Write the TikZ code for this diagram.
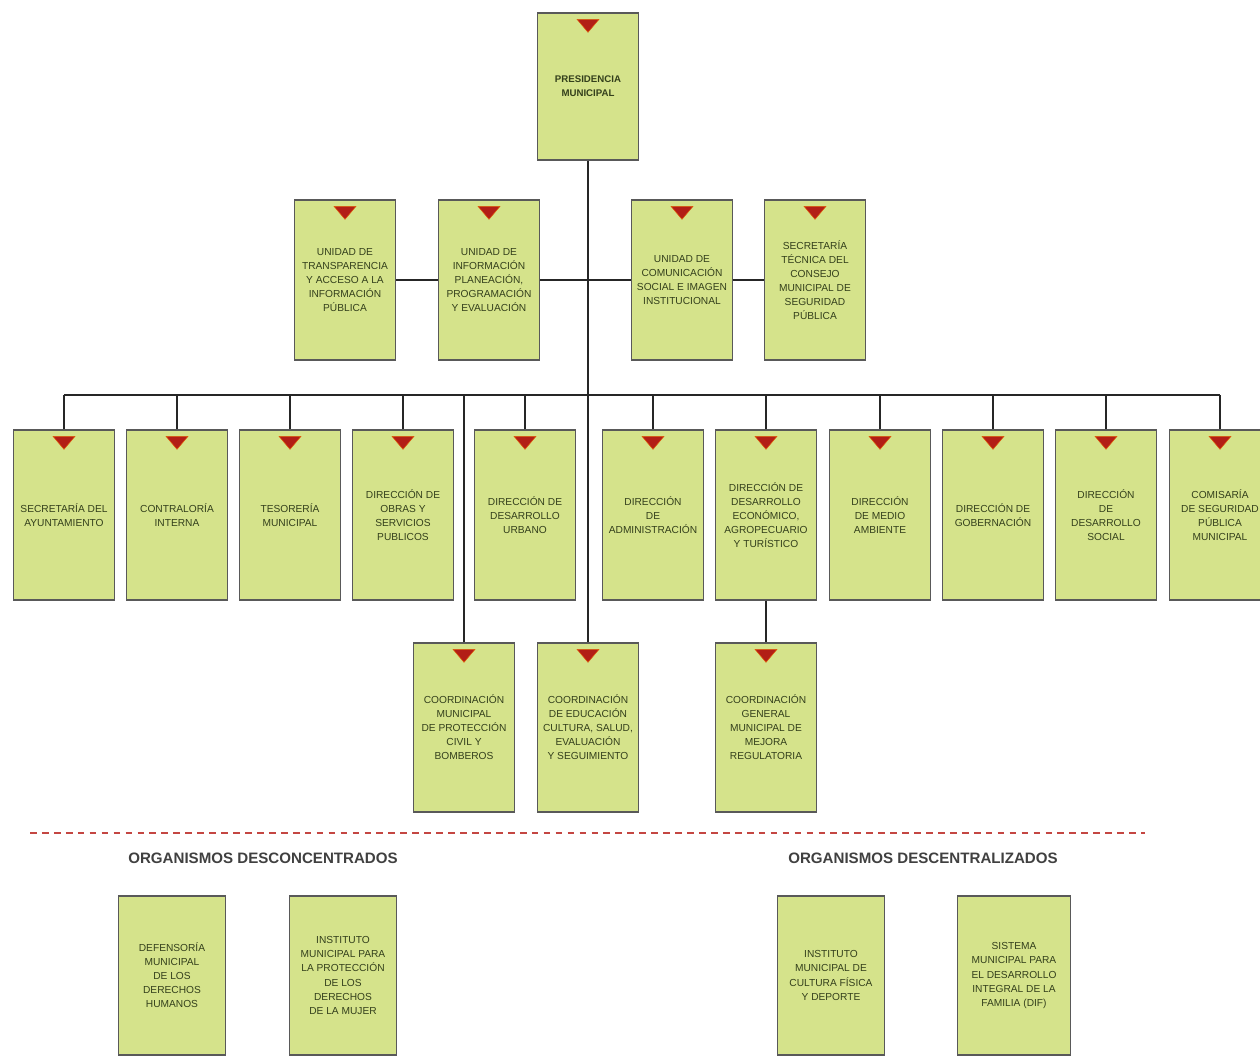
\documentclass[tikz,border=0pt]{standalone}
\usepackage{fontspec}
\setmainfont{Liberation Sans}
\usetikzlibrary{arrows}

\definecolor{verdecaja}{RGB}{213,227,139}
\definecolor{textocaja}{RGB}{52,64,28}
\definecolor{rojotri}{RGB}{178,30,22}
\definecolor{rojoguion}{RGB}{196,70,66}

\tikzset{
caja/.style={draw=black!65, line width=0.8pt, fill=verdecaja, text=textocaja, align=center,
  font=\fontsize{5.8}{8}\selectfont, inner sep=1pt, minimum width=2.02cm},
cajaP/.style={caja, minimum height=2.94cm, font=\bfseries\fontsize{5.5}{8}\selectfont},
cajaB/.style={caja, minimum height=3.2cm},
cajaC/.style={caja, minimum height=3.4cm},
cajaD/.style={caja, minimum height=3.38cm},
cajaE/.style={caja, minimum height=3.18cm, minimum width=2.14cm},
enlace/.style={line width=1.4pt, black!85},
titulo/.style={font=\bfseries\fontsize{8.6}{9}\selectfont, text=black!75}
}

\begin{document}
\begin{tikzpicture}[x=0.02cm, y=-0.02cm]

\useasboundingbox (0,0) rectangle (1260,1057);

\node[cajaP] (P) at (588,86.5) {PRESIDENCIA\\MUNICIPAL};

\node[cajaB] (B1) at (345,280) {UNIDAD DE\\TRANSPARENCIA\\Y ACCESO A LA\\INFORMACIÓN\\PÚBLICA};
\node[cajaB] (B2) at (489,280) {UNIDAD DE\\INFORMACIÓN\\PLANEACIÓN,\\PROGRAMACIÓN\\Y EVALUACIÓN};
\node[cajaB] (B3) at (682,280) {UNIDAD DE\\COMUNICACIÓN\\SOCIAL E IMAGEN\\INSTITUCIONAL};
\node[cajaB] (B4) at (815,280) {SECRETARÍA\\TÉCNICA DEL\\CONSEJO\\MUNICIPAL DE\\SEGURIDAD\\PÚBLICA};

\node[cajaC] (C1) at (64,515) {SECRETARÍA DEL\\AYUNTAMIENTO};
\node[cajaC] (C2) at (177,515) {CONTRALORÍA\\INTERNA};
\node[cajaC] (C3) at (290,515) {TESORERÍA\\MUNICIPAL};
\node[cajaC] (C4) at (403,515) {DIRECCIÓN DE\\OBRAS Y\\SERVICIOS\\PUBLICOS};
\node[cajaC] (C5) at (525,515) {DIRECCIÓN DE\\DESARROLLO\\URBANO};
\node[cajaC] (C6) at (653,515) {DIRECCIÓN\\DE\\ADMINISTRACIÓN};
\node[cajaC] (C7) at (766,515) {DIRECCIÓN DE\\DESARROLLO\\ECONÓMICO,\\AGROPECUARIO\\Y TURÍSTICO};
\node[cajaC] (C8) at (880,515) {DIRECCIÓN\\DE MEDIO\\AMBIENTE};
\node[cajaC] (C9) at (993,515) {DIRECCIÓN DE\\GOBERNACIÓN};
\node[cajaC] (C10) at (1106,515) {DIRECCIÓN\\DE\\DESARROLLO\\SOCIAL};
\node[cajaC] (C11) at (1220,515) {COMISARÍA\\DE SEGURIDAD\\PÚBLICA\\MUNICIPAL};

\node[cajaD] (D1) at (464,727.5) {COORDINACIÓN\\MUNICIPAL\\DE PROTECCIÓN\\CIVIL Y\\BOMBEROS};
\node[cajaD] (D2) at (588,727.5) {COORDINACIÓN\\DE EDUCACIÓN\\CULTURA, SALUD,\\EVALUACIÓN\\Y SEGUIMIENTO};
\node[cajaD] (D3) at (766,727.5) {COORDINACIÓN\\GENERAL\\MUNICIPAL DE\\MEJORA\\REGULATORIA};

\node[cajaE] (E1) at (172,975.5) {DEFENSORÍA\\MUNICIPAL\\DE LOS\\DERECHOS\\HUMANOS};
\node[cajaE] (E2) at (343,975.5) {INSTITUTO\\MUNICIPAL PARA\\LA PROTECCIÓN\\DE LOS\\DERECHOS\\DE LA MUJER};
\node[cajaE] (E3) at (831,975.5) {INSTITUTO\\MUNICIPAL DE\\CULTURA FÍSICA\\Y DEPORTE};
\node[cajaE, minimum width=2.26cm] (E4) at (1014,975.5) {SISTEMA\\MUNICIPAL PARA\\EL DESARROLLO\\INTEGRAL DE LA\\FAMILIA (DIF)};

\node[titulo] (T1) at (263,858) {ORGANISMOS DESCONCENTRADOS};
\node[titulo] (T2) at (923,858) {ORGANISMOS DESCENTRALIZADOS};

\foreach \n in {P,B1,B2,B3,B4,C1,C2,C3,C4,C5,C6,C7,C8,C9,C10,C11,D1,D2,D3}
{
\fill[rojotri, draw=orange!60!rojotri, line width=0.3pt, shift={(\n.north)}] (-11,7) -- (11,7) -- (0,20) -- cycle;
}

\coordinate (bus) at (588,395);

\draw[enlace] (P.south) -- (D2.north);
\draw[enlace] (B1.east) -- (B2.west) (B2.east) -- (B3.west) (B3.east) -- (B4.west);
\draw[enlace] (C1.north |- bus) -- (C11.north |- bus);
\foreach \n in {C1,C2,C3,C4,C5,C6,C7,C8,C9,C10,C11,D1}
{
\draw[enlace] (\n.north) -- (\n.north |- bus);
}
\draw[enlace] (C7.south) -- (D3.north);

\coordinate (g1) at (30,833);
\coordinate (g2) at (1145,833);
\draw[rojoguion, line width=1.1pt, dash pattern=on 3.8pt off 3pt] (g1) -- (g2);

\end{tikzpicture}
\end{document}
